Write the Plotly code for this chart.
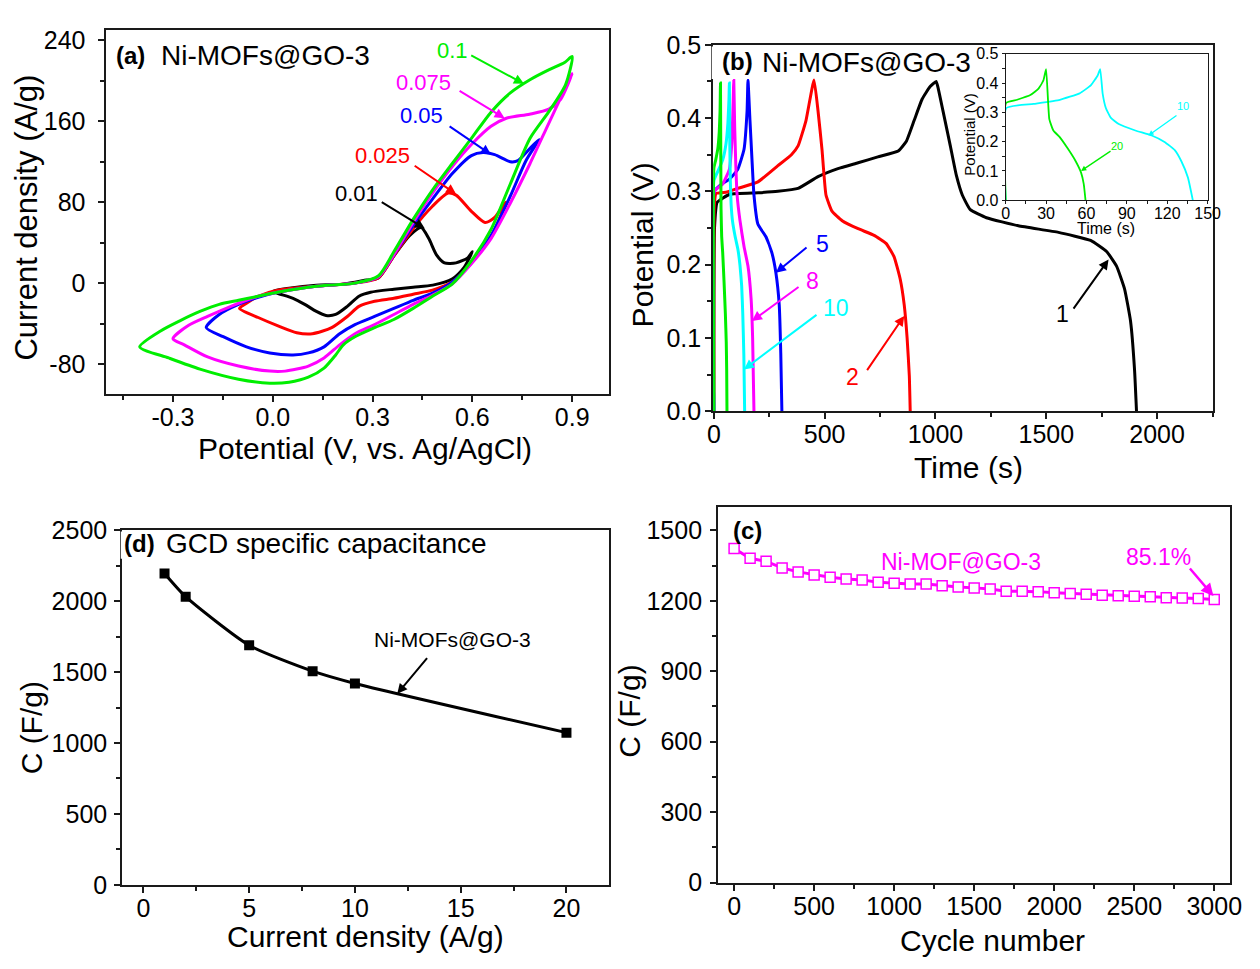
import plotly.graph_objects as go

W, H = 1260, 969
FONT = "Liberation Sans, Arial, sans-serif"
AXC = "#1a1a1a"

# ---------------- (a) CV data ----------------
cv_rates = ["0.01", "0.025", "0.05", "0.075", "0.1"]
cv_colors = ["#000000", "#ff0000", "#0000ff", "#ff00ff", "#00ee00"]

cv001_E = [0.0, 0.049, 0.131, 0.212, 0.282, 0.317, 0.364, 0.411, 0.446, 0.469, 0.492, 0.516, 0.551, 0.586, 0.6,
           0.574, 0.539, 0.481, 0.422, 0.364, 0.294, 0.259, 0.224, 0.189, 0.16, 0.131, 0.096, 0.061, 0.014, 0.0]
cv001_I = [-8, -5, -2, -1, 3, 5, 27, 47, 55, 44, 28, 20, 20, 25, 31,
           15, 4, -2, -4, -6, -9, -13, -23, -31, -32, -28, -21, -15, -10, -8]

cv0025_E = [-0.1, -0.079, -0.044, 0.014, 0.131, 0.247, 0.317, 0.364, 0.422, 0.48, 0.527, 0.551, 0.597, 0.638, 0.667, 0.7,
            0.679, 0.656, 0.62, 0.597, 0.539, 0.48, 0.422, 0.364, 0.306, 0.259, 0.224, 0.177, 0.119, 0.072, 0.014, -0.044, -0.1]
cv0025_I = [-25, -20, -13, -7, -3, 0, 5, 27, 54, 76, 89, 87, 71, 60, 65, 80,
            62, 45, 30, 20, 1, -7, -11, -15, -18, -23, -33, -44, -50, -49, -42, -34, -25]

cv005_E = [-0.2, -0.161, -0.103, -0.044, 0.014, 0.131, 0.247, 0.317, 0.364, 0.422, 0.48, 0.539, 0.597, 0.632, 0.667, 0.714, 0.737, 0.767, 0.8,
           0.761, 0.714, 0.656, 0.597, 0.539, 0.48, 0.422, 0.364, 0.306, 0.247, 0.201, 0.154, 0.107, 0.061, -0.009, -0.079, -0.149, -0.2]
cv005_I = [-44, -31, -21, -14, -9, -3, 0, 6, 28, 57, 83, 108, 126, 129, 127, 120, 121, 131, 142,
           121, 86, 47, 20, 1, -10, -17, -25, -33, -41, -50, -63, -69, -71, -69, -63, -53, -44]

cv0075_E = [-0.3, -0.254, -0.196, -0.126, -0.044, 0.014, 0.131, 0.247, 0.317, 0.364, 0.422, 0.48, 0.539, 0.597, 0.656, 0.702, 0.772, 0.83, 0.866, 0.9,
            0.877, 0.831, 0.773, 0.714, 0.656, 0.597, 0.539, 0.48, 0.422, 0.364, 0.306, 0.247, 0.201, 0.154, 0.107, 0.037, -0.009, -0.103, -0.196, -0.266, -0.3]
cv0075_I = [-55, -42, -33, -23, -13, -9, -3, 0, 6, 28, 60, 89, 115, 137, 155, 163, 167, 172, 182, 207,
            191, 159, 118, 79, 44, 19, -1, -12, -21, -31, -41, -50, -61, -74, -82, -87, -87, -82, -73, -61, -55]

cv01_E = [-0.4, -0.336, -0.278, -0.219, -0.161, -0.103, -0.044, 0.014, 0.131, 0.247, 0.317, 0.364, 0.422, 0.48, 0.539, 0.597, 0.656, 0.714, 0.773, 0.831, 0.877, 0.9,
          0.88, 0.831, 0.773, 0.714, 0.656, 0.597, 0.539, 0.48, 0.422, 0.364, 0.306, 0.247, 0.212, 0.189, 0.154, 0.107, 0.049, -0.009, -0.103, -0.219, -0.313, -0.4]
cv01_I = [-63, -47, -37, -28, -21, -17, -13, -9, -3, 0, 7, 31, 63, 92, 118, 143, 169, 188, 201, 211, 218, 224,
          196, 170, 143, 98, 53, 22, -1, -13, -25, -36, -44, -53, -61, -71, -84, -93, -98, -99, -95, -85, -74, -63]

cv_E = [cv001_E, cv0025_E, cv005_E, cv0075_E, cv01_E]
cv_I = [cv001_I, cv0025_I, cv005_I, cv0075_I, cv01_I]

cv_xticks = [-0.3, 0.0, 0.3, 0.6, 0.9]
cv_xticktext = ["-0.3", "0.0", "0.3", "0.6", "0.9"]
cv_yticks = [-80, 0, 80, 160, 240]
cv_yticktext = ["-80", "0", "80", "160", "240"]

# label text pos, arrow tail, arrow head (data units)
cv_lab_pos = [(0.253, 89), (0.329, 126), (0.446, 166), (0.452, 198), (0.539, 230)]
cv_arr_tail = [(0.323, 81), (0.422, 117), (0.527, 156), (0.557, 191), (0.592, 226)]
cv_arr_head = [(0.457, 54), (0.551, 88), (0.656, 127), (0.697, 163), (0.755, 197)]

# ---------------- (b) GCD data ----------------
gcd1_t = [0, 3, 15, 72, 200, 289, 380, 470, 560, 651, 740, 832, 868, 904, 940, 976, 1003,
          1012, 1040, 1067, 1094, 1121, 1157, 1230, 1374, 1555, 1700, 1772, 1817, 1853, 1880, 1898, 1907]
gcd1_v = [0, 0.25, 0.285, 0.296, 0.298, 0.3, 0.304, 0.32, 0.331, 0.339, 0.347, 0.355, 0.368, 0.397, 0.426, 0.443, 0.45,
          0.441, 0.401, 0.362, 0.322, 0.295, 0.275, 0.264, 0.253, 0.244, 0.233, 0.218, 0.198, 0.167, 0.123, 0.057, 0]

gcd2_t = [0, 2, 10, 60, 108, 199, 289, 350, 380, 416, 452,
          470, 488, 506, 533, 579, 651, 723, 777, 813, 841, 859, 872, 882, 886]
gcd2_v = [0, 0.28, 0.297, 0.299, 0.304, 0.313, 0.335, 0.35, 0.362, 0.397, 0.452,
          0.41, 0.357, 0.295, 0.273, 0.26, 0.249, 0.24, 0.229, 0.211, 0.18, 0.145, 0.1, 0.048, 0]

gcd5_t = [0, 2, 36, 72, 108, 136, 150, 154, 163, 172, 181, 199, 235, 262, 280, 295, 302, 307]
gcd5_v = [0, 0.3, 0.31, 0.317, 0.33, 0.357, 0.41, 0.452, 0.397, 0.344, 0.295, 0.255, 0.238, 0.216, 0.189, 0.145, 0.079, 0]

gcd8_t = [0, 2, 40, 70, 81, 87, 90, 94, 105, 118, 136, 154, 168, 175, 181]
gcd8_v = [0, 0.3, 0.31, 0.33, 0.366, 0.42, 0.452, 0.388, 0.295, 0.26, 0.225, 0.198, 0.154, 0.1, 0]

gcd10_t = [0, 0.5, 20.7, 40.2, 54.9, 63.4, 68.3, 70.2, 72, 74.4, 78, 84, 96.3, 108.5, 118, 125.6, 130.5, 135.4, 139]
gcd10_v = [0, 0.315, 0.329, 0.343, 0.365, 0.393, 0.426, 0.448, 0.365, 0.315, 0.282, 0.26, 0.238, 0.221, 0.199, 0.171, 0.133, 0.077, 0]

gcd20_t = [0, 0.3, 8.5, 18.3, 24.4, 28, 30, 32.4, 35.4, 40, 46, 52, 56, 58, 59.3]
gcd20_v = [0, 0.332, 0.343, 0.359, 0.381, 0.409, 0.448, 0.277, 0.238, 0.216, 0.177, 0.133, 0.094, 0.055, 0]

gcd_main = [("1", gcd1_t, gcd1_v, "#000000"), ("2", gcd2_t, gcd2_v, "#ff0000"),
            ("5", gcd5_t, gcd5_v, "#0000ff"), ("8", gcd8_t, gcd8_v, "#ff00ff"),
            ("10", gcd10_t, gcd10_v, "#00ffff"), ("20", gcd20_t, gcd20_v, "#00ee00")]

gcd_lab = {"5": (488, 0.228), "8": (447, 0.177), "10": (551, 0.141), "2": (624, 0.046), "1": (1573, 0.132)}
gcd_tail = {"5": (425, 0.225), "8": (389, 0.171), "10": (470, 0.133), "2": (687, 0.054), "1": (1618, 0.138)}
gcd_head = {"5": (280, 0.189), "8": (172, 0.123), "10": (136, 0.057), "2": (859, 0.13), "1": (1781, 0.207)}

inset_lab = {"10": (131.7, 0.323), "20": (83, 0.185)}
inset_tail = {"10": (128, 0.293), "20": (79, 0.171)}
inset_head = {"10": (106, 0.221), "20": (56, 0.1)}

# ---------------- (d) capacitance vs current density ----------------
cd_current = [1, 2, 5, 8, 10, 20]
cd_cap = [2196, 2032, 1689, 1507, 1420, 1073]

# ---------------- (c) cycling ----------------
cyc_n = [0, 100, 200, 300, 400, 500, 600, 700, 800, 900, 1000, 1100, 1200, 1300, 1400, 1500,
         1600, 1700, 1800, 1900, 2000, 2100, 2200, 2300, 2400, 2500, 2600, 2700, 2800, 2900, 3000]
cyc_cap = [1423, 1381, 1368, 1340, 1323, 1310, 1300, 1293, 1289, 1279, 1275, 1271, 1271, 1264, 1259, 1255,
           1250, 1241, 1241, 1239, 1234, 1231, 1228, 1224, 1221, 1219, 1217, 1213, 1212, 1210, 1206]


def px(x):
    return x / W


def py(y):
    return 1 - y / H


fig = go.Figure()

# (a)
for idx in range(5):
    fig.add_trace(go.Scatter(x=cv_E[idx], y=cv_I[idx], mode="lines", xaxis="x", yaxis="y",
                             line=dict(color=cv_colors[idx], width=3, shape="spline", smoothing=0.7),
                             showlegend=False, hoverinfo="skip"))

# (b)
for name, t, v, c in gcd_main:
    fig.add_trace(go.Scatter(x=t, y=v, mode="lines", xaxis="x2", yaxis="y2",
                             line=dict(color=c, width=3, shape="spline", smoothing=0.4),
                             showlegend=False, hoverinfo="skip"))
# inset
for name, t, v, c in gcd_main[4:]:
    fig.add_trace(go.Scatter(x=t, y=v, mode="lines", xaxis="x3", yaxis="y3",
                             line=dict(color=c, width=1.8, shape="spline", smoothing=0.4),
                             showlegend=False, hoverinfo="skip"))

# (d)
fig.add_trace(go.Scatter(x=cd_current, y=cd_cap, mode="lines+markers", xaxis="x4", yaxis="y4",
                         line=dict(color="#000000", width=3, shape="spline", smoothing=0.6),
                         marker=dict(symbol="square", size=10, color="#000000"),
                         showlegend=False, hoverinfo="skip"))

# (c)
fig.add_trace(go.Scatter(x=cyc_n, y=cyc_cap, mode="lines+markers", xaxis="x5", yaxis="y5",
                         line=dict(color="#ff00ff", width=3),
                         marker=dict(symbol="square", size=10, color="white",
                                     line=dict(color="#ff00ff", width=1.5)),
                         showlegend=False, hoverinfo="skip"))


def axis(dom, rng, dtick, minor, anchor, size=25, ticklen=6, standoff=4, lw=2, fmt=None):
    d = dict(domain=dom, range=rng, dtick=dtick, tick0=0, showgrid=False, zeroline=False,
             showline=True, linecolor=AXC, linewidth=lw, mirror=True, anchor=anchor,
             ticks="outside", ticklen=ticklen, tickwidth=lw, tickcolor=AXC,
             tickfont=dict(family=FONT, size=size, color="#000"),
             minor=dict(dtick=minor, tick0=0, ticks="outside", ticklen=max(3, ticklen - 2), tickwidth=lw,
                        tickcolor=AXC, showgrid=False),
             ticklabelstandoff=standoff, fixedrange=True)
    if fmt:
        d["tickformat"] = fmt
    return d


xa = axis([px(102), px(612)], [-0.5, 1.01], 0.3, 0.15, "y", standoff=-6)
xa.update(tickmode="array", tickvals=cv_xticks, ticktext=cv_xticktext)
ya = axis([py(391.7), py(16.7)], [-110, 250], 80, 40, "x", standoff=8)
ya.update(tickmode="array", tickvals=cv_yticks, ticktext=cv_yticktext)

fig.update_layout(
    width=W, height=H, margin=dict(l=0, r=0, t=0, b=0),
    paper_bgcolor="white", plot_bgcolor="white",
    font=dict(family=FONT, color="#000"),
    xaxis=xa,
    yaxis=ya,
    xaxis2=axis([px(718), px(1225)], [-3, 2250], 500, 250, "y2", standoff=-6),
    yaxis2=axis([py(409), py(31.7)], [0, 0.5], 0.1, 0.05, "x2", standoff=-1, fmt=".1f"),
    xaxis3=axis([px(1015), px(1220)], [0, 150], 30, 15, "y3", size=16, ticklen=3, standoff=-4, lw=1.2),
    yaxis3=axis([py(191.7), py(41)], [0, 0.5], 0.1, 0.05, "x3", size=16, ticklen=3, standoff=0, lw=1.2, fmt=".1f"),
    xaxis4=axis([px(118), px(612)], [-1, 22], 5, 2.5, "y4", standoff=-6),
    yaxis4=axis([py(896.7), py(531.7)], [0, 2500], 500, 250, "x4", standoff=2),
    xaxis5=axis([px(723), px(1243)], [-100, 3100], 500, 250, "y5", standoff=-6),
    yaxis5=axis([py(894.5), py(507.5)], [0, 1600], 300, 150, "x5", standoff=3),
)

ann = []
shapes = []


def txt(x, y, s, size, color="#000", xref="paper", yref="paper", xanchor="center", yanchor="middle",
        textangle=0, bold=False):
    ann.append(dict(x=x, y=y, xref=xref, yref=yref, text=("<b>%s</b>" % s) if bold else s,
                    showarrow=False, xanchor=xanchor, yanchor=yanchor, textangle=textangle,
                    font=dict(family=FONT, size=size, color=color)))


def arrow(head, tail, xr, yr, color, width=2, size=1.0):
    ann.append(dict(x=head[0], y=head[1], ax=tail[0], ay=tail[1], xref=xr, yref=yr,
                    axref=xr, ayref=yr, text="", showarrow=True, arrowhead=2,
                    arrowsize=size, arrowwidth=width, arrowcolor=color))


# axis titles
txt(px(21), py(210), "Current density (A/g)", 31, textangle=-90)
txt(px(365), py(447), "Potential (V, vs. Ag/AgCl)", 30)
txt(px(646), py(238), "Potential (V)", 30, textangle=-90)
txt(px(977), py(467), "Time (s)", 30)
txt(px(978), py(124), "Potential (V)", 15, textangle=-90)
txt(px(1117), py(221), "Time (s)", 16)
txt(px(26), py(735), "C (F/g)", 30, textangle=-90)
txt(px(365), py(950), "Current density (A/g)", 30)
txt(px(633), py(718), "C (F/g)", 30, textangle=-90)
txt(px(1002), py(954), "Cycle number", 30)

# panel labels
txt(px(110), py(43), "(a)", 24, xanchor="left", bold=True)
txt(px(155), py(43), "Ni-MOFs@GO-3", 28, xanchor="left")

# white masks in panels (b) and (d)
shapes.append(dict(type="rect", xref="paper", yref="paper", x0=px(716.5), x1=px(767), y0=py(67), y1=py(33.5),
                   fillcolor="white", line=dict(width=0), layer="above"))
shapes.append(dict(type="rect", xref="paper", yref="paper", x0=px(116.5), x1=px(161), y0=py(561), y1=py(533),
                   fillcolor="white", line=dict(width=0), layer="above"))
txt(px(725), py(49), "(b)", 24, xanchor="left", bold=True)
txt(px(766), py(50), "Ni-MOFs@GO-3", 28, xanchor="left")
txt(px(118), py(545), "(d)", 24, xanchor="left", bold=True)
txt(px(160), py(545), "GCD specific capacitance", 28, xanchor="left")
txt(px(736), py(532), "(c)", 24, xanchor="left", bold=True)

# (a) scan-rate labels
for i in range(5):
    txt(cv_lab_pos[i][0], cv_lab_pos[i][1], cv_rates[i], 22, color=cv_colors[i], xref="x", yref="y")
    arrow(cv_arr_head[i], cv_arr_tail[i], "x", "y", cv_colors[i])

# (b) labels
for name, t, v, c in gcd_main:
    if name in gcd_lab:
        txt(gcd_lab[name][0], gcd_lab[name][1], name, 23, color=c, xref="x2", yref="y2")
        arrow(gcd_head[name], gcd_tail[name], "x2", "y2", c)
    if name in inset_lab:
        txt(inset_lab[name][0], inset_lab[name][1], name, 11, color=c, xref="x3", yref="y3")
        arrow(inset_head[name], inset_tail[name], "x3", "y3", c, width=1.3, size=0.8)

# (d) label
txt(14.6, 1731, "Ni-MOFs@GO-3", 21, xref="x4", yref="y4")
arrow((12.0, 1347), (13.47, 1610), "x4", "y4", "#000000")

# (c) labels
txt(1420, 1365, "Ni-MOF@GO-3", 23, color="#ff00ff", xref="x5", yref="y5")
txt(2650, 1388, "85.1%", 23, color="#ff00ff", xref="x5", yref="y5")
arrow((2995, 1220), (2840, 1344), "x5", "y5", "#ff00ff", width=2.5)

fig.update_layout(annotations=ann, shapes=shapes)
fig.write_html("out.html")
